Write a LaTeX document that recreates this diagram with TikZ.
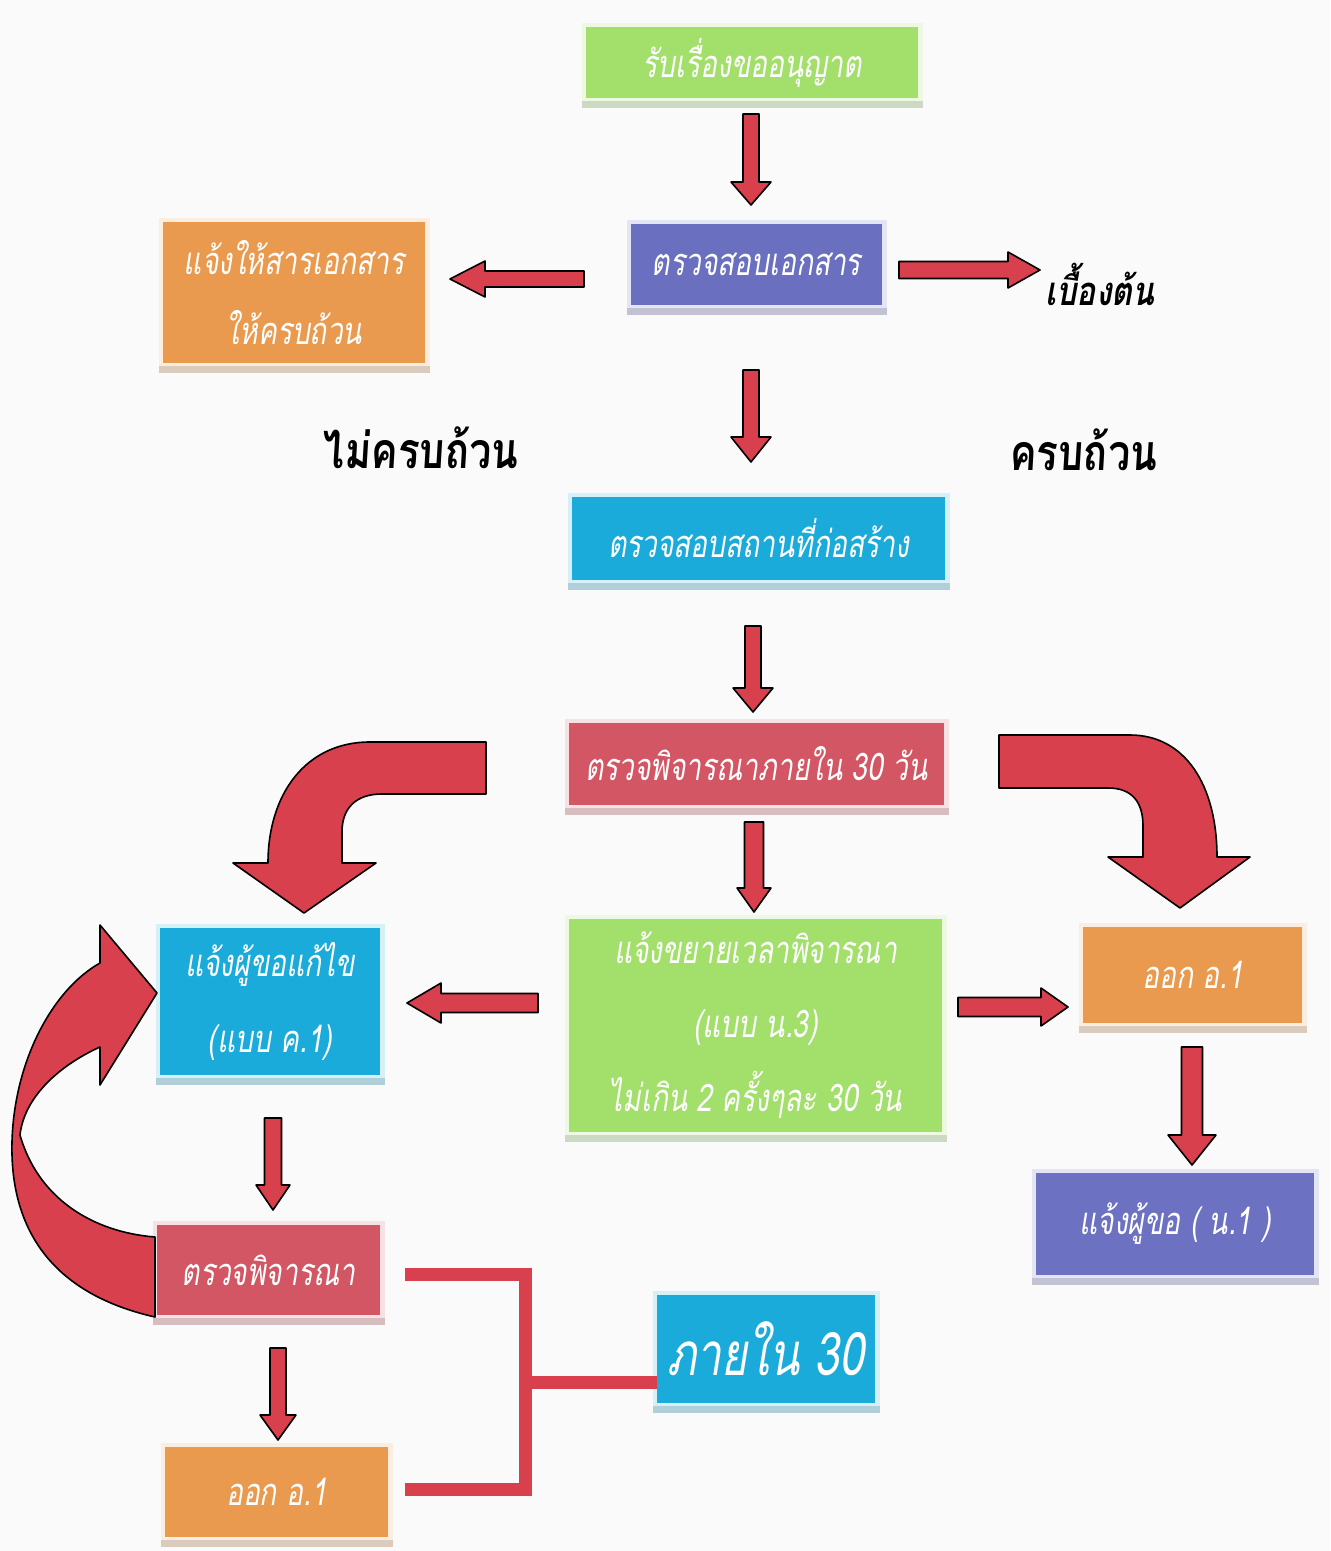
\documentclass[tikz,border=0pt]{standalone}
\usepackage{fontspec}
\newfontfamily\thai[Script=Thai,FakeSlant=0.16,FakeStretch=0.74]{Loma}
\newfontfamily\thaibf[Script=Thai,FakeSlant=0.06,FakeStretch=0.8]{Loma Bold}
\newfontfamily\thaibfit[Script=Thai,FakeSlant=0.18,FakeStretch=0.8]{Loma Bold}
\definecolor{bgc}{HTML}{FAFAFA}
\definecolor{cgreen}{HTML}{A3E06B}
\definecolor{cblue}{HTML}{6A70BF}
\definecolor{corange}{HTML}{E99A4E}
\definecolor{ccyan}{HTML}{1BABDA}
\definecolor{cred}{HTML}{D35664}
\definecolor{cpurple}{HTML}{6C71C2}
\definecolor{ared}{HTML}{D8404D}
\tikzset{
  box/.style={rectangle,inner sep=0pt,text=white,align=center,
    font=\thai\fontsize{19}{25}\selectfont},
  blk/.style={fill=ared,draw=black,line width=0.8pt,line join=round},
  lbl/.style={inner sep=0pt,text=black,font=\thaibf\fontsize{25}{30}\selectfont},
  bracket/.style={draw=ared,line width=6.5pt,line join=miter,line cap=butt}
}
% box frame: x0, y0, x1, y1, colour
\newcommand\bxframe[5]{%
  \fill[#5!18] ({#1-4},{#2-4}) rectangle ({#3+5},{#4+10});
  \fill[#5!45!gray!45] ({#1-4},{#4+3}) rectangle ({#3+5},{#4+10});}
% box: name, x0, y0, x1, y1, colour, text
\newcommand\bx[7]{%
  \bxframe{#2}{#3}{#4}{#5}{#6}
  \node[box,fill=#6,minimum width={(#4-#2)*0.5pt},minimum height={(#5-#3)*0.5pt}]
    (#1) at ({(#2+#4)/2},{(#3+#5)/2}) {#7};}
% vertical block arrow: x, ytop, ytip, shaft half, head half, head base y
\newcommand\varrow[6]{%
  \filldraw[blk] ({#1-#4},#2) -- ({#1+#4},#2) -- ({#1+#4},#6) -- ({#1+#5},#6)
    -- (#1,#3) -- ({#1-#5},#6) -- ({#1-#4},#6) -- cycle;}
% horizontal block arrow: x tail, x tip, y, shaft half, head half, head base x
\newcommand\harrow[6]{%
  \filldraw[blk] (#1,{#3-#4}) -- (#6,{#3-#4}) -- (#6,{#3-#5}) -- (#2,#3)
    -- (#6,{#3+#5}) -- (#6,{#3+#4}) -- (#1,{#3+#4}) -- cycle;}
\begin{document}
\begin{tikzpicture}[x=0.5pt,y=-0.5pt]
\fill[bgc] (0,0) rectangle (1330,1551);
\useasboundingbox (0,0) rectangle (1330,1551);

% boxes
\bx{b1}{586}{27}{918}{98}{cgreen}{รับเรื่องขออนุญาต}
\bx{b2}{631}{224}{882}{305}{cblue}{ตรวจสอบเอกสาร}
\bx{bL}{163}{222}{425}{363}{corange}{แจ้งให้สารเอกสาร\\[10pt]ให้ครบถ้วน}
\bx{b3}{572}{497}{945}{580}{ccyan}{ตรวจสอบสถานที่ก่อสร้าง}
\bx{b4}{569}{723}{944}{805}{cred}{ตรวจพิจารณาภายใน 30 วัน}
\bx{b5}{160}{928}{380}{1075}{ccyan}{แจ้งผู้ขอแก้ไข\\[13pt](แบบ ค.1)}
\bx{b6}{569}{919}{942}{1132}{cgreen}{แจ้งขยายเวลาพิจารณา\\[12pt](แบบ น.3)\\[12pt]ไม่เกิน 2 ครั้งๆละ 30 วัน}
\bx{b7}{1083}{927}{1302}{1023}{corange}{ออก อ.1}
\bx{b8}{1036}{1173}{1314}{1275}{cpurple}{แจ้งผู้ขอ ( น.1 )}
\bx{b9}{157}{1225}{380}{1315}{cred}{ตรวจพิจารณา}
\bx{b10}{165}{1447}{388}{1537}{corange}{ออก อ.1}
\bxframe{657}{1295}{875}{1403}{ccyan}
\node[box,fill=ccyan,minimum width=109pt,minimum height=54pt,
  font=\thai\fontsize{30}{36}\selectfont] (b11) at (766,1349) {ภายใน 30};

% labels
\node[lbl,font=\thaibfit\fontsize{20}{24}\selectfont] (t1) at (1100,284) {เบื้องต้น};
\node[lbl] (t2) at (420,448) {ไม่ครบถ้วน};
\node[lbl] (t3) at (1083,450) {ครบถ้วน};

% straight block arrows
\varrow{751}{114}{205}{8}{20}{182}
\harrow{584}{450}{279}{8}{18}{485}
\harrow{899}{1040}{270}{8.5}{18}{1008}
\varrow{751}{370}{462}{8}{20}{437}
\varrow{753}{626}{712}{8}{20}{688}
\varrow{754}{822}{912}{9.5}{17}{888}
\harrow{538}{407}{1003}{9.5}{20}{441}
\harrow{958}{1068}{1007}{9.5}{19}{1041}
\varrow{1192}{1047}{1165}{10.5}{24}{1135}
\varrow{273}{1118}{1210}{8.5}{17}{1185}
\varrow{278}{1348}{1440}{8}{18}{1415}

% curved block arrows
\filldraw[blk] (486,742) -- (370,742) .. controls (305,742) and (268,795) .. (268,863)
  -- (233,863) -- (304,913) -- (376,863) -- (342,863) -- (342,832)
  .. controls (342,808) and (356,794) .. (382,794) -- (486,794) -- cycle;
\filldraw[blk] (999,735) -- (1130,735) .. controls (1185,735) and (1217,785) .. (1217,857)
  -- (1250,857) -- (1180,908) -- (1108,857) -- (1143,857) -- (1143,826)
  .. controls (1143,802) and (1132,788) .. (1108,788) -- (999,788) -- cycle;
\filldraw[blk] (155,1317) .. controls (45,1292) and (10,1222) .. (12,1142)
  .. controls (14,1062) and (52,990) .. (100,963) -- (100,925) -- (157,993)
  -- (100,1085) -- (100,1047) .. controls (58,1066) and (24,1098) .. (20,1135)
  .. controls (38,1198) and (92,1232) .. (155,1237) -- cycle;

% bracket
\coordinate (k1) at (405,1274);
\coordinate (k2) at (525,1274);
\coordinate (k3) at (525,1489);
\coordinate (k4) at (405,1489);
\coordinate (k5) at (525,1382);
\draw[bracket] (k1) -- (k2) -- (k3) -- (k4);
\draw[bracket] (k5) -- (k5 -| b11.west);
\end{tikzpicture}
\end{document}
